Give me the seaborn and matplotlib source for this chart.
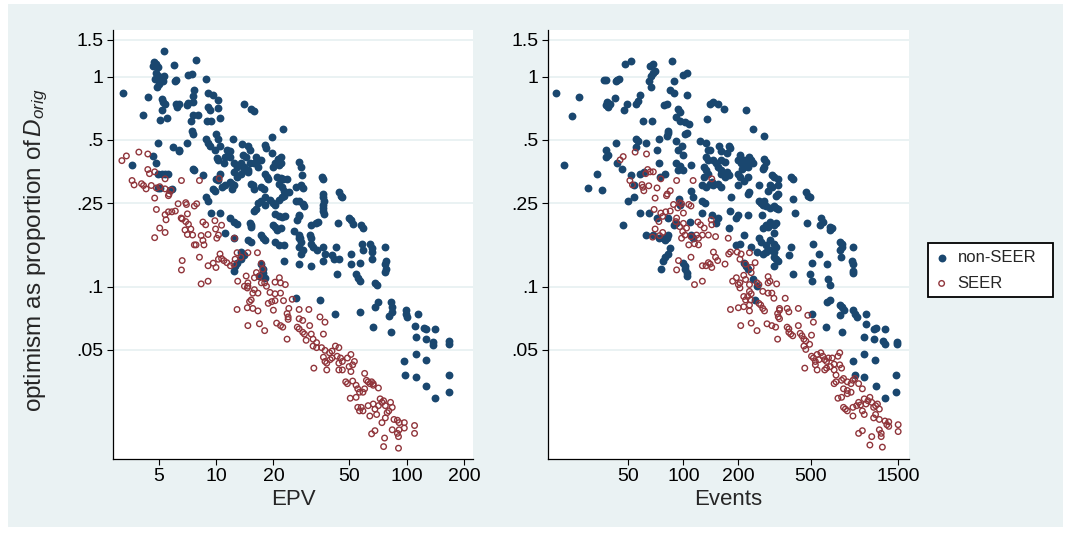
import matplotlib
matplotlib.use("Agg")
import matplotlib.pyplot as plt
from matplotlib.patches import Rectangle
from matplotlib.ticker import FixedLocator, FixedFormatter, NullLocator
import pandas as pd
import seaborn as sns

# ---------------- data ----------------
# Left panel, non-SEER: EPV and optimism
epv_nonseer = [
    5.34, 4.71, 4.67, 4.87, 4.97, 6.04, 7.83, 4.87, 4.97, 4.77,
    5.07, 5.18, 5.29, 5.01, 4.93, 5.36, 6.12, 6.17, 7.17, 7.48,
    8.90, 3.24, 4.39, 4.12, 5.23, 5.29, 5.41, 5.18, 5.52, 5.07,
    6.17, 6.38, 6.25, 7.08, 7.17, 7.70, 7.54, 7.54, 9.05, 9.67,
    10.3, 9.09, 9.28, 10.3, 9.01, 9.36, 10.5, 7.54, 8.02, 7.42,
    7.48, 7.54, 7.08, 9.95, 10.3, 14.0, 15.3, 15.9, 22.4, 19.6,
    4.97, 5.95, 6.38, 6.43, 8.90, 9.09, 9.28, 9.87, 10.5, 12.3,
    13.7, 14.7, 15.0, 13.8, 14.4, 11.4, 11.9, 11.6, 11.8, 11.2,
    18.0, 18.2, 19.6, 22.0, 21.1, 21.8, 10.1, 10.3, 11.0, 12.4,
    12.9, 4.67, 4.87, 3.64, 13.5, 14.1, 14.7, 15.9, 16.6, 15.0,
    16.3, 16.7, 17.3, 20.0, 20.4, 21.3, 7.54, 7.70, 8.54, 12.4,
    12.9, 13.5, 14.1, 14.7, 18.0, 18.6, 18.8, 20.8, 21.8, 22.4,
    23.6, 27.1, 27.8, 28.3, 10.5, 10.0, 10.3, 4.97, 5.18, 5.41,
    5.63, 4.97, 5.07, 5.75, 5.87, 9.67, 9.87, 10.7, 11.2, 11.8,
    12.1, 12.4, 12.1, 15.2, 15.6, 15.9, 17.3, 17.9, 21.3, 22.2,
    22.6, 23.1, 24.1, 26.2, 27.9, 28.5, 35.8, 36.6, 18.0, 17.3,
    19.2, 20.0, 20.4, 22.2, 21.3, 22.6, 26.2, 27.3, 28.5, 29.1,
    36.6, 36.6, 36.9, 36.6, 36.6, 36.6, 36.9, 44.1, 45.0, 46.0,
    16.6, 16.3, 15.9, 18.0, 9.47, 10.5, 11.9, 12.4, 12.9, 8.90,
    9.09, 15.0, 15.3, 15.2, 20.4, 21.5, 22.2, 22.9, 20.0, 20.4,
    21.8, 20.8, 25.6, 27.3, 27.5, 27.3, 27.1, 26.7, 31.6, 33.4,
    34.4, 43.5, 50.0, 51.0, 52.1, 57.8, 59.0, 14.7, 15.3, 12.4,
    11.2, 17.3, 17.6, 18.0, 20.4, 21.3, 22.6, 27.1, 27.9, 27.1,
    28.5, 27.9, 31.0, 31.6, 31.6, 32.3, 33.7, 36.6, 37.3, 36.6,
    40.6, 41.4, 42.8, 44.1, 43.2, 51.0, 51.0, 56.6, 58.2, 59.0,
    64.1, 65.5, 65.5, 65.5, 77.3, 77.9, 77.3, 77.9, 77.3, 22.6,
    17.3, 17.6, 17.6, 16.9, 18.0, 13.5, 14.1, 13.5, 12.9, 12.6,
    12.4, 27.3, 31.6, 54.3, 55.4, 56.6, 68.2, 69.6, 35.1, 26.2,
    71.1, 68.2, 82.3, 84.0, 84.0, 80.6, 42.3, 56.6, 99.2, 99.2,
    100, 114, 66.8, 82.3, 111, 124, 127, 141, 112, 127,
    137, 138, 167, 167, 97.2, 112, 127, 98.4, 112, 127,
    141, 167, 167,
]
opt_epv_nonseer = [
    1.329, 1.175, 1.123, 1.144, 1.110, 1.136, 1.20, 1.042, 1.004, 0.978,
    0.996, 0.967, 0.949, 0.921, 0.897, 1.004, 0.956, 0.967, 1.015, 1.030,
    0.971, 0.832, 0.799, 0.658, 0.784, 0.758, 0.744, 0.690, 0.633, 0.621,
    0.744, 0.744, 0.716, 0.730, 0.752, 0.864, 0.811, 0.758, 0.832, 0.817,
    0.772, 0.716, 0.690, 0.708, 0.612, 0.617, 0.633, 0.653, 0.658, 0.614,
    0.551, 0.535, 0.484, 0.531, 0.502, 0.741, 0.698, 0.687, 0.562, 0.517,
    0.484, 0.462, 0.449, 0.440, 0.502, 0.484, 0.466, 0.449, 0.466, 0.502,
    0.480, 0.466, 0.449, 0.424, 0.413, 0.449, 0.440, 0.424, 0.416, 0.413,
    0.471, 0.457, 0.435, 0.416, 0.404, 0.386, 0.409, 0.401, 0.389, 0.386,
    0.372, 0.421, 0.386, 0.379, 0.386, 0.372, 0.358, 0.386, 0.372, 0.386,
    0.416, 0.401, 0.401, 0.372, 0.386, 0.379, 0.365, 0.358, 0.339, 0.352,
    0.333, 0.345, 0.358, 0.352, 0.345, 0.333, 0.326, 0.333, 0.330, 0.326,
    0.326, 0.394, 0.372, 0.339, 0.345, 0.326, 0.323, 0.345, 0.345, 0.343,
    0.345, 0.294, 0.295, 0.288, 0.292, 0.292, 0.286, 0.299, 0.303, 0.314,
    0.309, 0.303, 0.292, 0.309, 0.303, 0.292, 0.297, 0.292, 0.309, 0.299,
    0.286, 0.278, 0.281, 0.299, 0.303, 0.295, 0.333, 0.326, 0.266, 0.256,
    0.258, 0.251, 0.246, 0.266, 0.258, 0.271, 0.256, 0.256, 0.248, 0.242,
    0.276, 0.266, 0.256, 0.246, 0.237, 0.229, 0.222, 0.281, 0.271, 0.268,
    0.251, 0.235, 0.229, 0.246, 0.224, 0.224, 0.212, 0.204, 0.198, 0.266,
    0.256, 0.200, 0.197, 0.193, 0.221, 0.218, 0.214, 0.218, 0.197, 0.193,
    0.191, 0.186, 0.184, 0.176, 0.170, 0.220, 0.216, 0.208, 0.197, 0.200,
    0.204, 0.200, 0.212, 0.208, 0.198, 0.197, 0.191, 0.166, 0.163, 0.170,
    0.180, 0.176, 0.170, 0.166, 0.163, 0.157, 0.158, 0.170, 0.163, 0.154,
    0.149, 0.143, 0.176, 0.170, 0.160, 0.154, 0.150, 0.154, 0.143, 0.133,
    0.141, 0.135, 0.154, 0.135, 0.1144, 0.143, 0.128, 0.130, 0.160, 0.149,
    0.160, 0.153, 0.146, 0.135, 0.154, 0.133, 0.128, 0.121, 0.118, 0.133,
    0.128, 0.121, 0.1166, 0.1123, 0.1102, 0.146, 0.141, 0.135, 0.130, 0.1257,
    0.1188, 0.128, 0.1257, 0.1144, 0.1102, 0.1061, 0.1042, 0.1022, 0.0864, 0.0880,
    0.0848, 0.0802, 0.0848, 0.0802, 0.0758, 0.0722, 0.0744, 0.0758, 0.0772, 0.0744,
    0.0717, 0.0738, 0.0641, 0.0606, 0.0652, 0.0636, 0.0629, 0.0629, 0.0573, 0.0562,
    0.0547, 0.0527, 0.0551, 0.0535, 0.0440, 0.0475, 0.0449, 0.0379, 0.0372, 0.0335,
    0.0294, 0.0379, 0.0316,
]

# Left panel, SEER: EPV and optimism
epv_seer = [
    3.21, 3.39, 3.94, 4.39, 3.63, 3.72, 4.39, 4.48, 4.77, 5.41,
    4.07, 4.17, 4.30, 4.58, 4.87, 5.07, 5.41, 5.82, 5.68, 5.63,
    6.59, 8.19, 10.4, 4.77, 4.87, 5.41, 5.47, 5.63, 5.87, 6.12,
    6.33, 6.94, 7.00, 7.70, 7.92, 5.07, 5.41, 4.77, 6.57, 6.65,
    7.08, 6.94, 7.17, 6.88, 7.08, 7.38, 7.54, 8.54, 8.83, 8.36,
    8.54, 9.09, 9.87, 9.95, 10.7, 10.3, 10.1, 7.70, 7.86, 8.65,
    6.65, 6.59, 8.19, 8.36, 9.09, 9.09, 9.67, 10.0, 10.3, 10.5,
    10.7, 11.0, 11.4, 11.9, 12.4, 12.6, 12.9, 12.5, 13.5, 14.7,
    16.5, 17.3, 17.6, 14.4, 14.7, 15.9, 16.3, 16.9, 17.3, 14.7,
    14.6, 15.6, 15.9, 16.6, 13.0, 14.1, 15.3, 15.0, 12.9, 14.6,
    15.6, 16.6, 18.0, 18.4, 20.4, 21.5, 21.8, 23.1, 19.2, 20.4,
    21.8, 18.8, 19.6, 20.4, 20.0, 22.6, 24.1, 23.6, 23.9, 23.9,
    25.1, 27.3, 30.7, 14.7, 16.9, 18.0, 20.8, 21.8, 22.4, 23.6,
    27.3, 28.5, 26.7, 27.3, 28.5, 29.1, 29.7, 31.0, 31.6, 32.3,
    33.7, 35.1, 37.3, 36.6, 32.3, 33.7, 35.8, 37.3, 39.4, 40.6,
    36.6, 37.3, 38.1, 39.7, 40.6, 42.3, 44.1, 43.2, 45.0, 46.0,
    44.1, 48.9, 51.0, 52.1, 53.2, 49.9, 44.1, 46.0, 38.1, 32.6,
    47.9, 48.9, 52.1, 51.0, 54.3, 55.4, 56.6, 59.0, 60.2, 60.2,
    61.5, 62.8, 64.1, 65.5, 66.8, 71.1, 66.8, 50.6, 54.3, 55.4,
    56.6, 57.8, 59.0, 62.8, 64.1, 66.8, 68.2, 71.1, 69.6, 72.6,
    74.2, 75.7, 77.3, 82.3, 84.0, 80.6, 74.2, 77.3, 79.0, 85.8,
    89.4, 91.3, 97.2, 97.2, 110, 110, 65.5, 68.2, 76.6, 75.7,
    84.0, 89.4, 90.6, 91.3, 90.6,
]
opt_epv_seer = [
    0.398, 0.419, 0.437, 0.428, 0.320, 0.305, 0.361, 0.345, 0.352, 0.326,
    0.309, 0.303, 0.292, 0.303, 0.295, 0.299, 0.292, 0.288, 0.276, 0.271,
    0.320, 0.320, 0.327, 0.264, 0.233, 0.220, 0.208, 0.227, 0.227, 0.229,
    0.248, 0.251, 0.246, 0.242, 0.248, 0.190, 0.181, 0.171, 0.212, 0.210,
    0.222, 0.204, 0.198, 0.186, 0.177, 0.188, 0.176, 0.203, 0.197, 0.175,
    0.166, 0.177, 0.206, 0.188, 0.196, 0.176, 0.170, 0.158, 0.158, 0.158,
    0.133, 0.120, 0.138, 0.1030, 0.1061, 0.1257, 0.1293, 0.1233, 0.135, 0.143,
    0.136, 0.133, 0.130, 0.1257, 0.128, 0.135, 0.145, 0.170, 0.138, 0.145,
    0.145, 0.129, 0.121, 0.1123, 0.1042, 0.1102, 0.1166, 0.1123, 0.1042, 0.1004,
    0.0985, 0.0931, 0.0967, 0.0931, 0.1061, 0.1004, 0.0864, 0.0848, 0.0778, 0.0793,
    0.0787, 0.0766, 0.1042, 0.1004, 0.1050, 0.1102, 0.1042, 0.1022, 0.0938, 0.0924,
    0.0931, 0.0832, 0.0848, 0.0857, 0.0772, 0.0857, 0.0787, 0.0744, 0.0717, 0.0698,
    0.0870, 0.0778, 0.0778, 0.0652, 0.0665, 0.0617, 0.0670, 0.0652, 0.0641, 0.0562,
    0.0703, 0.0690, 0.0641, 0.0629, 0.0606, 0.0594, 0.0555, 0.0652, 0.0594, 0.0562,
    0.0541, 0.0717, 0.0677, 0.0594, 0.0521, 0.0512, 0.0512, 0.0497, 0.0484, 0.0493,
    0.0461, 0.0440, 0.0432, 0.0449, 0.0457, 0.0521, 0.0512, 0.0466, 0.0457, 0.0440,
    0.0432, 0.0457, 0.0475, 0.0424, 0.0440, 0.0416, 0.0401, 0.0401, 0.0401, 0.0409,
    0.0352, 0.0345, 0.0355, 0.0394, 0.0339, 0.0326, 0.0314, 0.0314, 0.0326, 0.0386,
    0.0358, 0.0352, 0.0345, 0.0352, 0.0345, 0.0329, 0.0339, 0.0294, 0.0297, 0.0266,
    0.0256, 0.0266, 0.0256, 0.0271, 0.0242, 0.0276, 0.0261, 0.0271, 0.0246, 0.0292,
    0.0281, 0.0286, 0.0271, 0.0281, 0.0266, 0.0256, 0.0225, 0.0237, 0.0251, 0.0233,
    0.0231, 0.0225, 0.0225, 0.0212, 0.0218, 0.0200, 0.0199, 0.0206, 0.0190, 0.0173,
    0.0208, 0.0200, 0.0193, 0.0208, 0.0170,
]

# Right panel, non-SEER: Events and optimism
events_nonseer = [
    20.1, 22.1, 24.6, 26.8, 30.1, 33.5, 36.0, 36.9, 37.8, 38.3,
    37.8, 38.7, 39.6, 37.8, 38.7, 37.8, 42.9, 42.5, 43.5, 44.6,
    42.1, 43.1, 47.2, 49.0, 47.9, 51.4, 46.1, 46.8, 49.7, 53.9,
    51.4, 53.9, 55.2, 56.5, 57.9, 60.0, 55.2, 56.5, 55.2, 62.2,
    57.9, 60.7, 57.9, 64.6, 65.8, 68.4, 70.0, 66.8, 65.2, 66.8,
    68.4, 67.4, 73.4, 71.7, 73.4, 74.5, 78.9, 62.2, 68.4, 71.7,
    73.4, 77.0, 78.9, 80.8, 78.1, 80.8, 81.9, 80.8, 82.7, 84.7,
    88.8, 88.8, 86.7, 93.1, 95.4, 90.9, 95.4, 102, 90.9, 93.1,
    97.7, 90.9, 95.4, 93.1, 100, 100, 105, 105, 107, 104,
    102, 100, 110, 94.5, 95.4, 90.9, 88.8, 82.7, 81.9, 84.7,
    82.7, 78.9, 77.0, 75.2, 100, 102, 104, 105, 102, 110,
    113, 109, 110, 113, 124, 133, 137, 133, 137, 140,
    146, 150, 154, 130, 133, 137, 130, 127, 133, 140,
    143, 146, 154, 161, 127, 132, 127, 143, 154, 150,
    135, 140, 146, 154, 167, 157, 161, 177, 181, 173,
    161, 169, 161, 169, 177, 173, 161, 183, 181, 177,
    195, 200, 204, 200, 206, 209, 214, 214, 200, 204,
    214, 200, 219, 225, 230, 235, 241, 225, 230, 227,
    227, 241, 278, 219, 278, 284, 278, 272, 259, 259,
    272, 265, 269, 278, 291, 298, 305, 284, 298, 313,
    320, 328, 305, 313, 328, 328, 331, 320, 298, 284,
    291, 272, 313, 320, 313, 259, 265, 284, 298, 313,
    320, 235, 253, 272, 284, 298, 313, 214, 204, 195,
    214, 219, 225, 241, 253, 247, 313, 320, 328, 313,
    387, 397, 397, 406, 387, 378, 397, 468, 480, 491,
    566, 580, 558, 638, 653, 638, 475, 503, 491, 503,
    553, 515, 503, 608, 623, 632, 718, 735, 718, 728,
    735, 848, 840, 848, 848, 848, 608, 638, 718, 735,
    753, 718, 602, 735, 848, 868, 889, 1000, 1000, 1101,
    1128, 1270, 978, 1101, 1240, 1270, 848, 978, 1117, 868,
    978, 1128, 1270, 1465, 1465, 1485, 1485,
]
opt_ev_nonseer = [
    0.832, 0.379, 0.650, 0.802, 0.295, 0.345, 0.288, 0.960, 0.967, 0.758,
    0.730, 0.716, 0.744, 0.449, 0.424, 0.416, 0.484, 0.949, 0.967, 0.978,
    0.787, 0.386, 0.690, 0.744, 1.144, 1.188, 0.365, 0.197, 0.256, 0.266,
    0.339, 0.303, 0.744, 0.764, 0.817, 0.617, 0.502, 0.493, 0.462, 0.484,
    0.345, 0.352, 0.224, 0.224, 1.123, 1.144, 1.062, 1.004, 0.949, 0.897,
    1.042, 0.617, 0.502, 0.449, 0.386, 0.333, 0.345, 0.176, 0.176, 0.212,
    0.170, 0.170, 0.166, 0.170, 0.730, 0.744, 0.541, 0.521, 0.551, 0.864,
    0.832, 0.949, 1.188, 0.703, 0.677, 0.640, 0.617, 0.605, 0.493, 0.449,
    0.466, 0.386, 0.375, 0.358, 0.358, 1.023, 1.042, 0.817, 0.594, 0.541,
    0.531, 0.424, 0.379, 0.261, 0.246, 0.200, 0.197, 0.212, 0.176, 0.152,
    0.143, 0.138, 0.133, 0.121, 0.130, 0.1257, 0.1166, 0.1123, 0.1210, 0.286,
    0.266, 0.204, 0.176, 0.170, 0.493, 0.484, 0.449, 0.416, 0.401, 0.449,
    0.401, 0.386, 0.372, 0.372, 0.358, 0.345, 0.333, 0.303, 0.299, 0.309,
    0.314, 0.303, 0.309, 0.299, 0.256, 0.251, 0.224, 0.220, 0.212, 0.200,
    0.628, 0.744, 0.758, 0.744, 0.703, 0.466, 0.440, 0.466, 0.457, 0.432,
    0.401, 0.394, 0.358, 0.333, 0.339, 0.352, 0.345, 0.266, 0.229, 0.190,
    0.212, 0.220, 0.424, 0.401, 0.386, 0.365, 0.401, 0.372, 0.345, 0.333,
    0.320, 0.303, 0.386, 0.372, 0.416, 0.401, 0.386, 0.333, 0.281, 0.276,
    0.220, 0.562, 0.521, 0.690, 0.404, 0.394, 0.372, 0.365, 0.303, 0.256,
    0.246, 0.251, 0.220, 0.256, 0.286, 0.303, 0.297, 0.242, 0.237, 0.242,
    0.237, 0.235, 0.339, 0.333, 0.326, 0.303, 0.276, 0.271, 0.204, 0.197,
    0.193, 0.190, 0.197, 0.200, 0.179, 0.170, 0.163, 0.158, 0.166, 0.160,
    0.154, 0.154, 0.146, 0.143, 0.146, 0.149, 0.146, 0.176, 0.160, 0.157,
    0.130, 0.1257, 0.1210, 0.1081, 0.1004, 0.0864, 0.138, 0.135, 0.133, 0.1257,
    0.333, 0.326, 0.261, 0.224, 0.154, 0.141, 0.1144, 0.281, 0.271, 0.266,
    0.212, 0.204, 0.197, 0.193, 0.190, 0.186, 0.200, 0.130, 0.1144, 0.1061,
    0.143, 0.160, 0.0744, 0.128, 0.1081, 0.1022, 0.163, 0.160, 0.149, 0.138,
    0.154, 0.154, 0.133, 0.128, 0.1188, 0.1166, 0.0848, 0.0864, 0.0817, 0.0802,
    0.0772, 0.0730, 0.0641, 0.0606, 0.0772, 0.0744, 0.0717, 0.0744, 0.0665, 0.0629,
    0.0636, 0.0629, 0.0573, 0.0562, 0.0551, 0.0531, 0.0444, 0.0475, 0.0449, 0.0379,
    0.0372, 0.0335, 0.0294, 0.0379, 0.0316, 0.0547, 0.0535,
]

# Right panel, SEER: Events and optimism
events_seer = [
    45.0, 46.8, 54.4, 62.8, 50.9, 52.6, 59.3, 59.9, 60.7, 64.6,
    70.0, 71.7, 62.2, 63.7, 65.8, 68.4, 75.2, 81.6, 80.8, 84.7,
    91.8, 113, 143, 69.1, 75.2, 77.0, 73.4, 80.0, 84.7, 88.3,
    93.1, 95.4, 97.7, 100, 70.0, 77.0, 67.8, 74.1, 91.8, 90.9,
    95.4, 100, 104, 99.1, 102, 97.7, 107, 110, 110, 118,
    121, 115, 107, 121, 120, 124, 130, 127, 137, 142,
    143, 150, 176, 146, 150, 154, 169, 177, 181, 137,
    140, 143, 133, 127, 110, 115, 127, 94.0, 91.8, 197,
    207, 230, 204, 219, 235, 186, 195, 204, 214, 219,
    200, 204, 230, 230, 235, 225, 233, 253, 259, 214,
    219, 230, 181, 200, 214, 230, 235, 247, 291, 298,
    291, 324, 272, 291, 305, 313, 259, 265, 272, 278,
    361, 336, 336, 328, 331, 336, 370, 378, 426, 253,
    235, 206, 287, 305, 320, 328, 370, 378, 378, 387,
    397, 426, 436, 446, 457, 468, 491, 480, 515, 503,
    457, 468, 503, 515, 528, 540, 553, 566, 580, 594,
    608, 623, 653, 528, 540, 594, 608, 638, 669, 718,
    735, 669, 702, 718, 462, 685, 669, 685, 735, 753,
    790, 828, 848, 868, 911, 955, 753, 790, 828, 702,
    735, 790, 753, 771, 790, 848, 889, 911, 933, 978,
    1000, 1025, 1050, 1075, 1101, 1128, 1155, 1183, 848, 955,
    978, 1101, 1128, 1183, 1270, 1300, 911, 955, 1075, 1050,
    1211, 1211, 1229, 1332, 1500, 1500, 1332, 1183,
]
opt_ev_seer = [
    0.401, 0.416, 0.437, 0.428, 0.320, 0.305, 0.306, 0.297, 0.286, 0.302,
    0.264, 0.295, 0.345, 0.361, 0.352, 0.352, 0.326, 0.276, 0.271, 0.286,
    0.320, 0.320, 0.326, 0.233, 0.224, 0.216, 0.204, 0.227, 0.229, 0.246,
    0.237, 0.251, 0.248, 0.224, 0.188, 0.181, 0.172, 0.175, 0.212, 0.204,
    0.193, 0.200, 0.190, 0.183, 0.176, 0.170, 0.246, 0.242, 0.173, 0.176,
    0.170, 0.160, 0.158, 0.158, 0.203, 0.197, 0.190, 0.176, 0.176, 0.208,
    0.197, 0.173, 0.170, 0.146, 0.138, 0.133, 0.128, 0.143, 0.146, 0.130,
    0.128, 0.1233, 0.1257, 0.1257, 0.138, 0.1022, 0.1061, 0.133, 0.1201, 0.146,
    0.143, 0.145, 0.135, 0.128, 0.1233, 0.1061, 0.1102, 0.1042, 0.1132, 0.1081,
    0.1022, 0.0985, 0.1022, 0.0949, 0.0924, 0.0897, 0.0864, 0.1042, 0.1022, 0.0897,
    0.0864, 0.0817, 0.0778, 0.0793, 0.0802, 0.0766, 0.1166, 0.130, 0.1115, 0.1061,
    0.1042, 0.1030, 0.0949, 0.0931, 0.0931, 0.0880, 0.0832, 0.0817, 0.0787, 0.0766,
    0.0880, 0.0787, 0.0772, 0.0744, 0.0717, 0.0703, 0.0787, 0.0758, 0.0787, 0.0617,
    0.0670, 0.0652, 0.0665, 0.0652, 0.0641, 0.0562, 0.0641, 0.0629, 0.0606, 0.0594,
    0.0583, 0.0652, 0.0599, 0.0583, 0.0562, 0.0551, 0.0531, 0.0730, 0.0677, 0.0587,
    0.0521, 0.0502, 0.0466, 0.0457, 0.0440, 0.0475, 0.0449, 0.0484, 0.0466, 0.0449,
    0.0440, 0.0457, 0.0457, 0.0424, 0.0401, 0.0401, 0.0409, 0.0416, 0.0401, 0.0424,
    0.0409, 0.0427, 0.0466, 0.0484, 0.0409, 0.0379, 0.0345, 0.0352, 0.0358, 0.0365,
    0.0352, 0.0345, 0.0358, 0.0365, 0.0345, 0.0326, 0.0326, 0.0320, 0.0314, 0.0294,
    0.0297, 0.0309, 0.0266, 0.0261, 0.0256, 0.0266, 0.0271, 0.0281, 0.0273, 0.0292,
    0.0276, 0.0286, 0.0297, 0.0281, 0.0266, 0.0271, 0.0276, 0.0261, 0.0242, 0.0256,
    0.0246, 0.0237, 0.0246, 0.0233, 0.0229, 0.0220, 0.0200, 0.0206, 0.0193, 0.0176,
    0.0200, 0.0193, 0.0172, 0.0216, 0.0220, 0.0204, 0.0227, 0.0208,
]

series_labels = ["non-SEER", "SEER"]
y_ticks = [1.5, 1, 0.5, 0.25, 0.1, 0.05]
y_ticklabels = ["1.5", "1", ".5", ".25", ".1", ".05"]
epv_ticks = [5, 10, 20, 50, 100, 200]
epv_ticklabels = ["5", "10", "20", "50", "100", "200"]
events_ticks = [50, 100, 200, 500, 1500]
events_ticklabels = ["50", "100", "200", "500", "1500"]

# ---------------- styling ----------------
NAVY = "#1a476f"
MAROON = "#90353b"
BG = "#eaf2f3"

sns.set_theme(style="white")
plt.rcParams["font.family"] = ["Liberation Sans", "DejaVu Sans"]
plt.rcParams["mathtext.fontset"] = "custom"
plt.rcParams["mathtext.rm"] = "Liberation Sans"
plt.rcParams["mathtext.it"] = "Liberation Sans:italic"

W, H = 1071, 535
fig = plt.figure(figsize=(W / 100, H / 100), dpi=100, facecolor="white")
fig.patches.append(Rectangle((8 / W, 8 / H), 1055 / W, 523 / H,
                             transform=fig.transFigure, facecolor=BG,
                             edgecolor="none", zorder=-10))

ax_bottom = (535 - 458.7) / H
ax_height = (458.7 - 30) / H
ax1 = fig.add_axes([113.3 / W, ax_bottom, 359.4 / W, ax_height])
ax2 = fig.add_axes([548.3 / W, ax_bottom, 360.3 / W, ax_height])

df_l_ns = pd.DataFrame({"x": epv_nonseer, "y": opt_epv_nonseer})
df_l_s = pd.DataFrame({"x": epv_seer, "y": opt_epv_seer})
df_r_ns = pd.DataFrame({"x": events_nonseer, "y": opt_ev_nonseer})
df_r_s = pd.DataFrame({"x": events_seer, "y": opt_ev_seer})

for ax, dns, ds in [(ax1, df_l_ns, df_l_s), (ax2, df_r_ns, df_r_s)]:
    ax.set_facecolor("white")
    ax.set_xscale("log")
    ax.set_yscale("log")
    sns.scatterplot(data=dns, x="x", y="y", ax=ax, color=NAVY, s=32,
                    linewidth=0, edgecolor=NAVY, label=series_labels[0],
                    legend=False, zorder=3)
    sns.scatterplot(data=ds, x="x", y="y", ax=ax, color=MAROON,
                    facecolor="none", edgecolor=MAROON, s=16,
                    linewidth=1.0, marker="o", label=series_labels[1],
                    legend=False, zorder=4)
    ax.set_ylim(0.01515, 1.667)
    ax.yaxis.set_major_locator(FixedLocator(y_ticks))
    ax.yaxis.set_major_formatter(FixedFormatter(y_ticklabels))
    ax.yaxis.set_minor_locator(NullLocator())
    ax.xaxis.set_minor_locator(NullLocator())
    ax.grid(False)
    ax.yaxis.grid(True, color=BG, linewidth=1.4, zorder=0)
    ax.set_axisbelow(True)
    for side in ["top", "right"]:
        ax.spines[side].set_visible(False)
    for side in ["left", "bottom"]:
        ax.spines[side].set_color("black")
        ax.spines[side].set_linewidth(0.9)
    ax.tick_params(axis="both", which="major", direction="out", length=4,
                   width=0.8, color="black", labelsize=14, pad=3,
                   labelcolor="black", bottom=True, left=True)
    ax.set_ylabel("")

ax1.set_xlim(2.894, 222)
ax1.xaxis.set_major_locator(FixedLocator(epv_ticks))
ax1.xaxis.set_major_formatter(FixedFormatter(epv_ticklabels))
ax2.set_xlim(18.2, 1711)
ax2.xaxis.set_major_locator(FixedLocator(events_ticks))
ax2.xaxis.set_major_formatter(FixedFormatter(events_ticklabels))

ax1.set_xlabel("EPV", fontsize=16)
ax2.set_xlabel("Events", fontsize=16)
for ax in (ax1, ax2):
    ax.xaxis.set_label_coords(0.5, -0.07)

fig.text(36.7 / W, 1 - 250.5 / H, r"optimism as proportion of$\,D_{orig}$",
         rotation=90, ha="center", va="center", fontsize=17.5)

handles, labels = ax1.get_legend_handles_labels()
leg = fig.legend(handles, labels, loc="upper left",
                 bbox_to_anchor=(928.3 / W, 1 - 243.3 / H, (1053 - 928.3) / W, 0),
                 mode="expand", frameon=True, fancybox=False,
                 edgecolor="black", facecolor="white", framealpha=1,
                 fontsize=12, borderpad=0.4, labelspacing=0.65,
                 handlelength=0.8, handletextpad=0.55, borderaxespad=0)
leg.get_frame().set_linewidth(1.3)

fig.savefig("out.png", dpi=100, facecolor=fig.get_facecolor())
